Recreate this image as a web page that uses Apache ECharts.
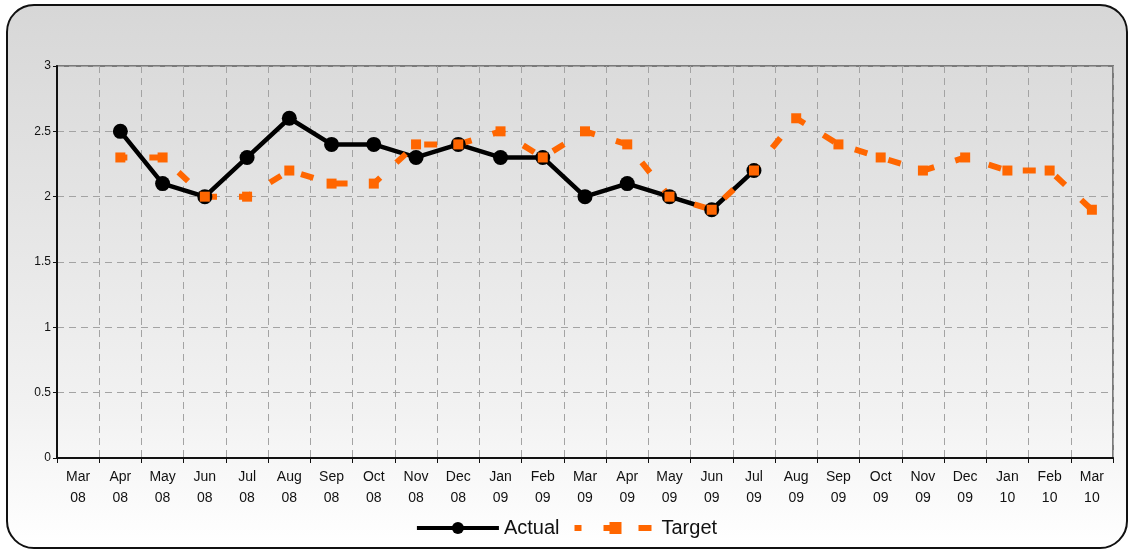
<!DOCTYPE html>
<html>
<head>
<meta charset="utf-8">
<script src="https://cdn.jsdelivr.net/npm/echarts@6/dist/echarts.min.js"></script>
<style>
  html, body { margin: 0; padding: 0; background: #fff; }
  #box {
    position: absolute; left: 6px; top: 4px; width: 1122px; height: 545px;
    border: 2px solid #111; border-radius: 28px;
    background: linear-gradient(to bottom, #d7d7d7 0%, #f2f2f2 75%, #ffffff 100%);
    box-sizing: border-box;
  }
  #chart { position: absolute; left: 0; top: 0; width: 1132px; height: 553px; }
</style>
</head>
<body>
<div id="box"></div>
<div id="chart"></div>
<script>
// categories (month / year)
var months = ['Mar\n08','Apr\n08','May\n08','Jun\n08','Jul\n08','Aug\n08','Sep\n08','Oct\n08','Nov\n08','Dec\n08',
              'Jan\n09','Feb\n09','Mar\n09','Apr\n09','May\n09','Jun\n09','Jul\n09','Aug\n09','Sep\n09','Oct\n09',
              'Nov\n09','Dec\n09','Jan\n10','Feb\n10','Mar\n10'];
var actual = [null, 2.5, 2.1, 2.0, 2.3, 2.6, 2.4, 2.4, 2.3, 2.4, 2.3, 2.3, 2.0, 2.1, 2.0, 1.9, 2.2,
              null, null, null, null, null, null, null, null];
var target = [null, 2.3, 2.3, 2.0, 2.0, 2.2, 2.1, 2.1, 2.4, 2.4, 2.5, 2.3, 2.5, 2.4, 2.0, 1.9, 2.2,
              2.6, 2.4, 2.3, 2.2, 2.3, 2.2, 2.2, 1.9];

var myChart = echarts.init(document.getElementById('chart'));

var option = {
    backgroundColor: 'transparent',
    animation: false,
    grid: {
        left: 57, right: 19, top: 66, bottom: 95,
        show: true, borderColor: '#7a7a7a', borderWidth: 2,
        backgroundColor: 'transparent'
    },
    legend: {
        bottom: 10,
        left: 'center',
        itemWidth: 82,
        itemHeight: 15,
        itemGap: 12,
        textStyle: { fontSize: 20, color: '#111', fontFamily: 'Liberation Sans' },
        data: [
            { name: 'Actual', lineStyle: { width: 4 } },
            { name: 'Target', lineStyle: { width: 6 } }
        ]
    },
    xAxis: {
        type: 'category',
        boundaryGap: true,
        data: months,
        axisLine: { lineStyle: { color: '#111', width: 2 } },
        axisTick: { show: true, length: 5, lineStyle: { color: '#111' } },
        axisLabel: { fontSize: 14, color: '#111', lineHeight: 21, margin: 9, fontFamily: 'Liberation Sans' },
        splitLine: { show: true, lineStyle: { color: '#a3a3a3', type: [7, 5] } }
    },
    yAxis: {
        type: 'value',
        min: 0, max: 3, interval: 0.5,
        axisLine: { show: true, lineStyle: { color: '#111', width: 2 } },
        axisTick: { show: true, length: 4, lineStyle: { color: '#111' } },
        axisLabel: { fontSize: 12, color: '#111', margin: 6, fontFamily: 'Liberation Sans' },
        splitLine: { show: true, lineStyle: { color: '#a3a3a3', type: [7, 5] } }
    },
    series: [
        {
            name: 'Actual',
            type: 'line',
            data: actual,
            symbol: 'circle',
            symbolSize: 15,
            connectNulls: false,
            itemStyle: { color: '#000' },
            lineStyle: { color: '#000', width: 4.5 }
        },
        {
            name: 'Target',
            type: 'line',
            data: target,
            symbol: 'rect',
            symbolSize: 10,
            itemStyle: { color: '#ff6600' },
            lineStyle: { color: '#ff6600', width: 6, type: [13, 22], dashOffset: 6, cap: 'butt' }
        }
    ]
};

myChart.setOption(option);
</script>
</body>
</html>
